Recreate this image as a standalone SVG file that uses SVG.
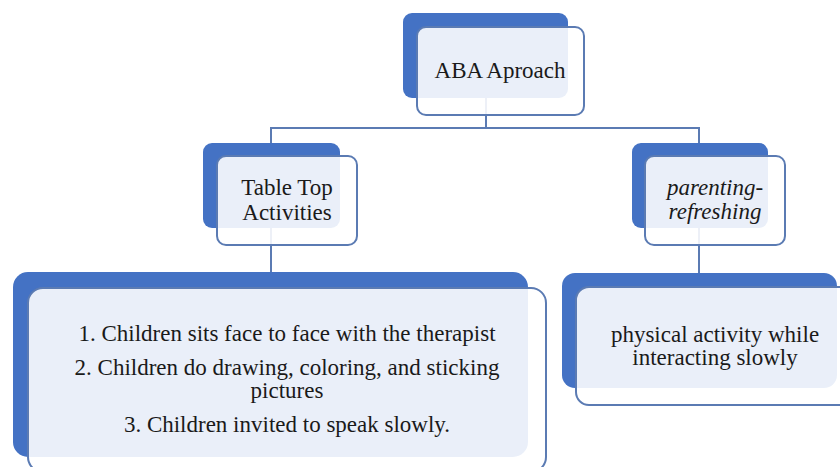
<svg xmlns="http://www.w3.org/2000/svg" width="840" height="467" viewBox="0 0 840 467">
<style>
.back{fill:#4472c4;}
.front{fill:#ffffff;fill-opacity:0.89;stroke:#5b7bb3;stroke-width:2;}
.conn{fill:none;stroke:#5b7bb3;stroke-width:2;}
.t{font-family:'Liberation Serif','DejaVu Serif','Noto Serif','Times New Roman',Times,serif;font-size:23px;fill:#1a1a1a;text-anchor:middle;}
.it{font-style:italic;}
</style>
<rect width="840" height="467" fill="#ffffff"/>
<g id="connectors">
<path class="conn" d="M486,98 V128 M271,128 H699 M271,127 V143 M699,127 V143 M271,228 V272 M699,228 V273"/>
</g>
<g id="node-aba">
<rect class="back" x="403" y="13" width="165" height="85" rx="9"/>
<rect class="front" x="417" y="27" width="167" height="88" rx="9"/>
<text class="t" x="500" y="78" font-family="'Liberation Serif', serif">ABA Aproach</text>
</g>
<g id="node-tabletop">
<rect class="back" x="203" y="143" width="137" height="85" rx="9"/>
<rect class="front" x="217" y="156" width="140" height="89" rx="9"/>
<text class="t" x="287" y="195">Table Top</text>
<text class="t" x="287" y="220">Activities</text>
</g>
<g id="node-parenting">
<rect class="back" x="632" y="143" width="136" height="85" rx="9"/>
<rect class="front" x="645" y="156" width="140" height="89" rx="9"/>
<text class="t it" x="715" y="195">parenting-</text>
<text class="t it" x="715" y="219">refreshing</text>
</g>
<g id="node-list">
<rect class="back" x="13" y="272" width="515" height="185" rx="15"/>
<rect class="front" x="28" y="288" width="518" height="184" rx="15"/>
<text class="t" x="287" y="341">1. Children sits face to face with the therapist</text>
<text class="t" x="287" y="375">2. Children do drawing, coloring, and sticking</text>
<text class="t" x="287" y="398">pictures</text>
<text class="t" x="287" y="432">3. Children invited to speak slowly.</text>
</g>
<g id="node-physical">
<rect class="back" x="562" y="273" width="275" height="115" rx="13"/>
<rect class="front" x="576" y="287" width="279" height="118" rx="13"/>
<text class="t" x="715" y="342">physical activity while</text>
<text class="t" x="715" y="365">interacting slowly</text>
</g>
</svg>
